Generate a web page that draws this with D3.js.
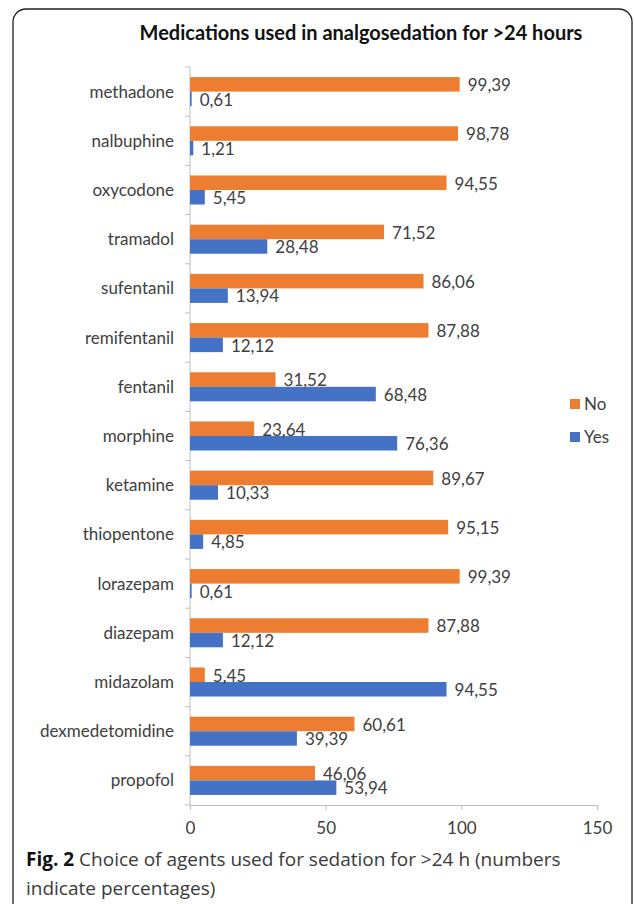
<!DOCTYPE html>
<html lang="en">
<head>
<meta charset="UTF-8">
<title>analgosedation</title>
<script src="https://d3js.org/d3.v7.min.js"></script>
<style>
  body { margin: 0; background: #fff; }
</style>
</head>
<body>
<svg width="634" height="904"></svg>
<script>
  // data
  var drugs = ["methadone", "nalbuphine", "oxycodone", "tramadol", "sufentanil", "remifentanil",
    "fentanil", "morphine", "ketamine", "thiopentone", "lorazepam", "diazepam",
    "midazolam", "dexmedetomidine", "propofol"];
  var noValues = [99.39, 98.78, 94.55, 71.52, 86.06, 87.88, 31.52, 23.64, 89.67, 95.15, 99.39, 87.88, 5.45, 60.61, 46.06];
  var yesValues = [0.61, 1.21, 5.45, 28.48, 13.94, 12.12, 68.48, 76.36, 10.33, 4.85, 0.61, 12.12, 94.55, 39.39, 53.94];
  var series = ["No", "Yes"];
  var xTicks = [0, 50, 100, 150];
  var colors = { No: "#ED7D31", Yes: "#4472C4" };

  var svg = d3.select("svg");
  var font = "Lato, 'Open Sans', sans-serif";

  // frame
  svg.append("rect")
    .attr("x", 13).attr("y", 9)
    .attr("width", 619).attr("height", 920)
    .attr("rx", 13)
    .attr("fill", "none")
    .attr("stroke", "#231f20")
    .attr("stroke-width", 1.3);

  // title
  svg.append("text")
    .attr("x", 361).attr("y", 40)
    .attr("text-anchor", "middle")
    .attr("font-family", font)
    .attr("font-weight", "bold")
    .attr("font-size", 20)
    .attr("fill", "#111")
    .text("Medications used in analgosedation for >24 hours");

  var x = d3.scaleLinear().domain([0, 150]).range([190, 597]);
  var y = d3.scaleBand().domain(drugs).range([67, 805]).paddingInner(0.41).paddingOuter(0.205);
  var sub = d3.scaleBand().domain(series).range([0, y.bandwidth()]);

  var rows = drugs.map(function(d, i) {
    return { name: d, values: [{ key: "No", v: noValues[i] }, { key: "Yes", v: yesValues[i] }] };
  });

  // x axis
  var xAxis = svg.append("g")
    .attr("transform", "translate(0,805)")
    .call(d3.axisBottom(x).tickValues(xTicks).tickSize(5).tickPadding(12));
  xAxis.select(".domain").attr("stroke", "#bfbfbf");
  xAxis.selectAll(".tick line").attr("stroke", "#bfbfbf");
  xAxis.selectAll("text").attr("font-family", font).attr("font-size", 17).attr("fill", "#404040");

  // y axis line + ticks at band edges
  var step = y.step();
  var yg = svg.append("g");
  yg.append("line")
    .attr("x1", 190).attr("x2", 190)
    .attr("y1", y.range()[0]).attr("y2", y.range()[1])
    .attr("stroke", "#bfbfbf");
  yg.selectAll(".yt")
    .data(d3.range(drugs.length + 1))
    .join("line")
    .attr("x1", 185).attr("x2", 190)
    .attr("y1", function(i) { return y.range()[0] + i * step; })
    .attr("y2", function(i) { return y.range()[0] + i * step; })
    .attr("stroke", "#bfbfbf");

  // category labels
  svg.append("g").selectAll("text")
    .data(drugs)
    .join("text")
    .attr("x", 174)
    .attr("y", function(d) { return y(d) + y.bandwidth() / 2; })
    .attr("dy", "0.35em")
    .attr("text-anchor", "end")
    .attr("font-family", font)
    .attr("font-size", 17)
    .attr("fill", "#404040")
    .text(function(d) { return d; });

  // bars
  var grp = svg.append("g").selectAll("g")
    .data(rows)
    .join("g")
    .attr("transform", function(d) { return "translate(0," + y(d.name) + ")"; });

  grp.selectAll("rect")
    .data(function(d) { return d.values; })
    .join("rect")
    .attr("x", x(0))
    .attr("y", function(d) { return sub(d.key); })
    .attr("width", function(d) { return x(d.v) - x(0); })
    .attr("height", sub.bandwidth())
    .attr("fill", function(d) { return colors[d.key]; });

  var fmt = function(v) { return v.toFixed(2).replace(".", ","); };
  grp.selectAll("text")
    .data(function(d) { return d.values; })
    .join("text")
    .attr("x", function(d) { return x(d.v) + 8; })
    .attr("y", function(d) { return sub(d.key) + sub.bandwidth() / 2; })
    .attr("dy", "0.4em")
    .attr("font-family", font)
    .attr("font-size", 17)
    .attr("fill", "#404040")
    .text(function(d) { return fmt(d.v); });

  // legend
  var leg = svg.append("g").selectAll("g")
    .data(series)
    .join("g")
    .attr("transform", function(d, i) { return "translate(570," + (399 + i * 33) + ")"; });
  leg.append("rect").attr("width", 10).attr("height", 10)
    .attr("fill", function(d) { return colors[d]; });
  leg.append("text")
    .attr("x", 14).attr("y", 5).attr("dy", "0.36em")
    .attr("font-family", font).attr("font-size", 17).attr("fill", "#404040")
    .text(function(d) { return d; });

  // caption
  var cap = svg.append("text")
    .attr("font-family", "'Open Sans', sans-serif")
    .attr("font-size", 19)
    .attr("fill", "#3a3a3a");
  cap.append("tspan").attr("x", 26).attr("y", 866).attr("font-weight", "bold").attr("fill", "#111").text("Fig. 2");
  cap.append("tspan").text(" Choice of agents used for sedation for >24 h (numbers");
  cap.append("tspan").attr("x", 26).attr("y", 895).text("indicate percentages)");
</script>
</body>
</html>
